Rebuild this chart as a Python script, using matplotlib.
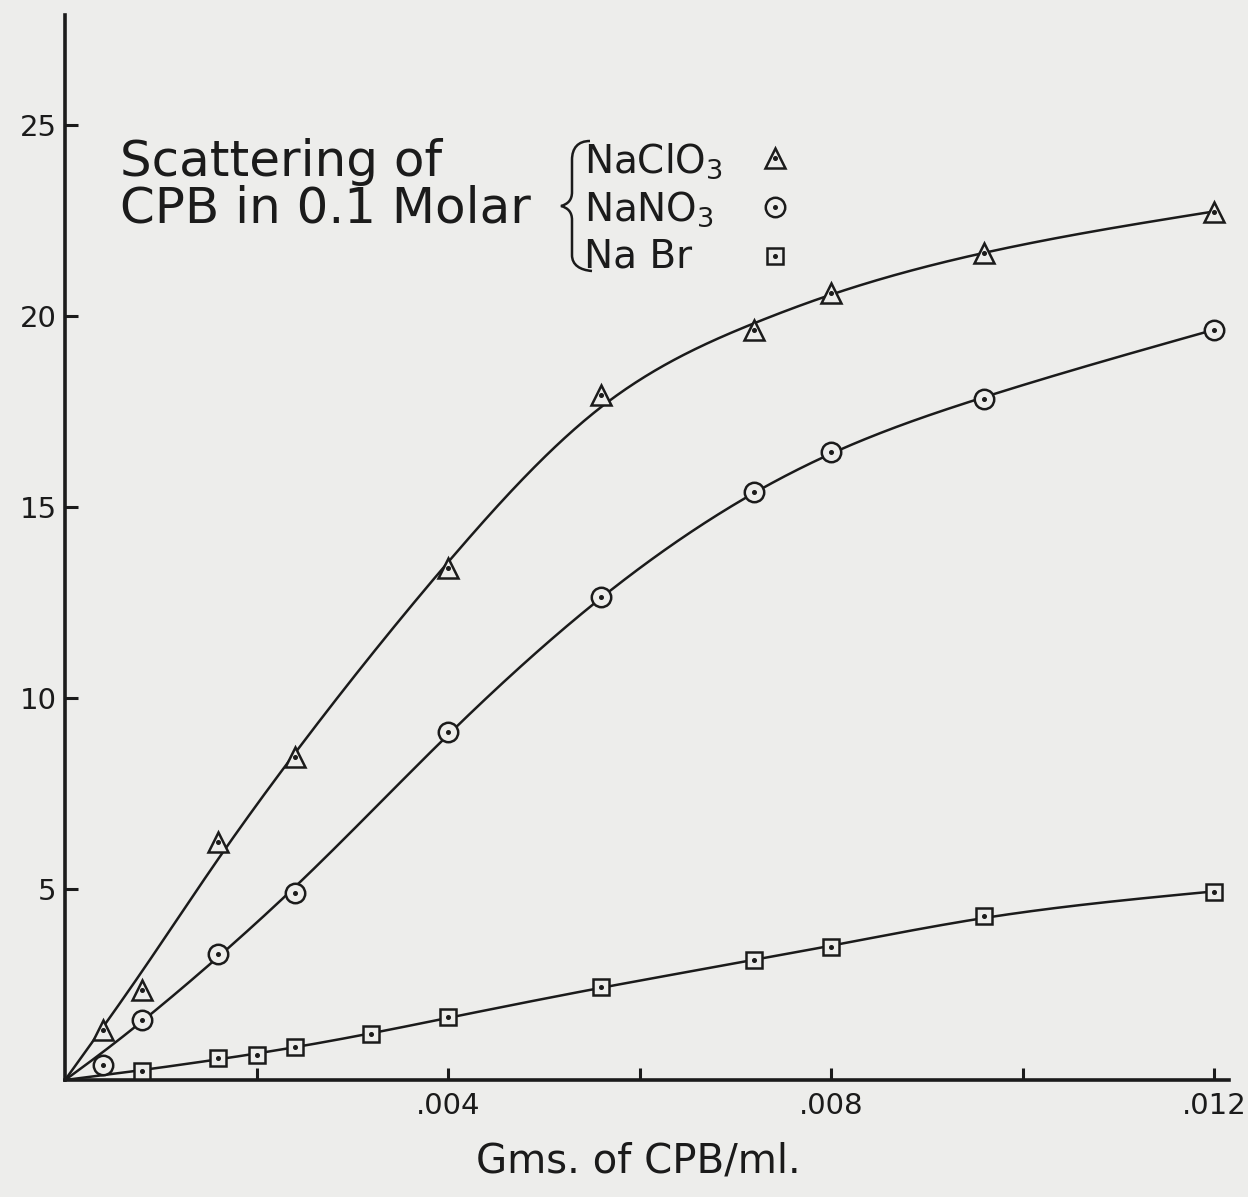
import numpy as np
import matplotlib
matplotlib.use("Agg")
import matplotlib.pyplot as plt
from matplotlib.path import Path
from matplotlib.patches import PathPatch

# ---------------- data ----------------
conc = [0.0004, 0.0008, 0.0016, 0.0024, 0.0040, 0.0056, 0.0072, 0.0080, 0.0096, 0.0120]
naclo3 = [1.31, 2.36, 6.23, 8.46, 13.40, 17.93, 19.63, 20.60, 21.65, 22.72]
nano3 = [0.39, 1.57, 3.30, 4.90, 9.11, 12.64, 15.39, 16.44, 17.83, 19.63]
conc_br = [0.0008, 0.0016, 0.0020, 0.0024, 0.0032, 0.0040, 0.0056, 0.0072, 0.0080, 0.0096, 0.0120]
nabr = [0.24, 0.58, 0.65, 0.86, 1.20, 1.65, 2.43, 3.14, 3.48, 4.29, 4.92]
series_labels = ["NaClO$_3$", "NaNO$_3$", "Na Br"]
x_ticks = [0.002, 0.004, 0.006, 0.008, 0.010, 0.012]
x_ticklabels = ["", ".004", "", ".008", "", ".012"]
y_ticks = [5, 10, 15, 20, 25]
y_ticklabels = ["5", "10", "15", "20", "25"]
title_text = "Scattering of\nCPB in 0.1 Molar"
x_label = "Gms. of CPB/ml."

# ---------------- style ----------------
W, H = 1248, 1197
BG = "#ededeb"
INK = "#1b1b1b"
plt.rcParams["font.family"] = ["DejaVu Sans"]


def fx(px):
    return px / W


def fy(py):
    return 1 - py / H


def smooth_curve(xs, ys, lam=4e4, n=601):
    """Smooth hand-drawn style curve through origin and the data points."""
    xmax = max(xs)
    gx = np.linspace(0, xmax, n)
    w = np.zeros(n)
    z = np.zeros(n)
    w[0] = 100.0
    for x, y in zip(xs, ys):
        i = int(round(x / xmax * (n - 1)))
        w[i] += 1.0
        z[i] += y
    D = np.diff(np.eye(n), 2, axis=0)
    A = np.diag(w) + lam * D.T @ D
    f = np.linalg.solve(A, z)
    return gx, f


fig = plt.figure(figsize=(W / 100, H / 100), dpi=100, facecolor=BG)
ax = fig.add_axes([fx(65), fy(1080), fx(1229) - fx(65), fy(15) - fy(1080)])
ax.set_facecolor(BG)
ax.set_xlim(0, (1229 - 65) / 383 * 0.004)
ax.set_ylim(0, (1080 - 15) / 38.2)

for s in ["top", "right"]:
    ax.spines[s].set_visible(False)
for s in ["left", "bottom"]:
    ax.spines[s].set_linewidth(2.6)
    ax.spines[s].set_color(INK)

ax.set_xticks(x_ticks)
ax.set_xticklabels(x_ticklabels)
ax.set_yticks(y_ticks)
ax.set_yticklabels(y_ticklabels)
ax.tick_params(axis="both", direction="in", length=9, width=2.2, color=INK,
               labelcolor=INK, labelsize=21)
ax.tick_params(axis="x", pad=9)
ax.tick_params(axis="y", pad=6)

ax.set_xlabel(x_label, fontsize=29, color=INK)
ax.xaxis.set_label_coords((638 - 65) / 1164, -0.058)

marker_specs = [("^", 15), ("o", 14), ("s", 12)]
datasets = [(conc, naclo3), (conc, nano3), (conc_br, nabr)]
handles = []
for (xs, ys), (mk, ms) in zip(datasets, marker_specs):
    gx, gy = smooth_curve(xs, ys)
    ax.plot(gx, gy, color=INK, lw=1.8, zorder=2, clip_on=False)
    m, = ax.plot(xs, ys, ls="none", marker=mk, ms=ms, mfc=BG, mec=INK,
                 mew=1.8, zorder=3, clip_on=False)
    d, = ax.plot(xs, ys, ls="none", marker="o", ms=2.6, mfc=INK, mec=INK,
                 zorder=4, clip_on=False)
    handles.append((m, d))

# legend keys (markers only), labels written separately so they left-align
leg = fig.legend(handles, ["", "", ""], loc="upper left",
                 bbox_to_anchor=(fx(756), fy(142)), frameon=False,
                 fontsize=28, handlelength=1.0, handletextpad=0.0,
                 labelspacing=0.28, borderpad=0, borderaxespad=0)

label_baselines = [173, 221, 268]
for lab, yb in zip(series_labels, label_baselines):
    fig.text(fx(584), fy(yb), lab, ha="left", va="baseline", fontsize=28,
             color=INK)

fig.text(fx(120), fy(138), title_text, ha="left", va="top", fontsize=36,
         color=INK, linespacing=0.95)

# brace joining the three salts
verts = [(590, 141), (578, 141), (572, 148), (572, 160),
         (572, 192),
         (572, 200), (568, 204), (561, 206),
         (568, 208), (572, 212), (572, 220),
         (572, 255),
         (572, 265), (580, 270), (592, 271)]
codes = [Path.MOVETO, Path.CURVE4, Path.CURVE4, Path.CURVE4,
         Path.LINETO,
         Path.CURVE4, Path.CURVE4, Path.CURVE4,
         Path.CURVE4, Path.CURVE4, Path.CURVE4,
         Path.LINETO,
         Path.CURVE4, Path.CURVE4, Path.CURVE4]
brace = Path([(fx(a), fy(b)) for a, b in verts], codes)
fig.add_artist(PathPatch(brace, transform=fig.transFigure, fill=False,
                         lw=1.8, edgecolor=INK))

fig.savefig("out.png", dpi=100, facecolor=BG)
